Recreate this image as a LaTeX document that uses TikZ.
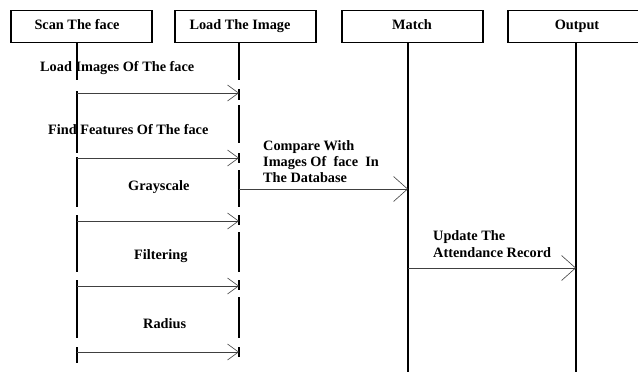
\documentclass[tikz,border=0pt]{standalone}
\usepackage{fontspec}
\setmainfont{Liberation Serif}
\usetikzlibrary{arrows.meta}
\begin{document}
\begin{tikzpicture}[x=1pt,y=-1pt,
  boxst/.style={draw=black,line width=1.8pt,minimum width=141pt,minimum height=32pt,inner sep=0pt},
  txt/.style={font=\fontsize{14.3}{16}\selectfont\bfseries,inner sep=0pt,text=black},
  life/.style={line width=1.8pt,black},
  msg/.style={line width=0.8pt,black!75,-{Straight Barb[length=11pt,width=16pt,line width=0.6pt]}},
  msgbig/.style={line width=0.8pt,black!75,-{Straight Barb[length=14pt,width=25pt,line width=0.6pt]}}]
\useasboundingbox (0,0) rectangle (638,372);
\clip (0,0) rectangle (638,372);
\fill[white] (0,0) rectangle (638,372);
% boxes
\node[boxst] (scanbox) at (81.5,26.5) {};
\node[boxst] (loadbox) at (245.5,26.5) {};
\node[boxst] (matchbox) at (412.5,26.5) {};
\node[boxst] (outbox) at (578.5,26.5) {};
\node[txt,anchor=base] (scant) at (77,30) {Scan The face};
\node[txt,anchor=base] (loadt) at (240,30) {Load The Image};
\node[txt,anchor=base] (matcht) at (412,30) {Match};
\node[txt,anchor=base] (outt) at (577,30) {Output};
% lifelines: scan
\foreach \a/\b in {43/80,91/153,157/207,215/272,280/338,347/363}
  \draw[life] (77,\a) -- (77,\b);
% lifelines: load
\foreach \a/\b in {43/80,89/100,105/143,153/163,170/207,215/225,232/272,280/290,297/338,347/357}
  \draw[life] (239,\a) -- (239,\b);
% lifelines: match, output
\coordinate (mtop) at (408,43);
\coordinate (mbot) at (408,372);
\coordinate (otop) at (576,43);
\coordinate (obot) at (576,372);
\draw[life] (mtop) -- (mbot);
\draw[life] (otop) -- (obot);
% message endpoints
\foreach \i/\y in {1/93,2/158,3/221,4/286,5/352}{
  \coordinate (s\i) at (77,\y);
  \coordinate (l\i) at (239,\y);
}
\coordinate (cmpA) at (239,189);
\coordinate (cmpB) at (408,189);
\coordinate (updA) at (408,268);
\coordinate (updB) at (576,268);
\foreach \i in {1,...,5} \draw[msg] (s\i) -- (l\i);
\draw[msgbig] (cmpA) -- (cmpB);
\draw[msgbig] (updA) -- (updB);
% labels
\node[txt,anchor=base west] (lab1) at (40,71) {Load Images Of The face};
\node[txt,anchor=base west] (lab2) at (48,134) {Find Features Of The face};
\node[txt,anchor=base west] (lab3) at (128,190) {Grayscale};
\node[txt,anchor=base west] (lab4) at (134,259) {Filtering};
\node[txt,anchor=base west] (lab5) at (143,328) {Radius};
\node[txt,anchor=base west] (cmp1) at (263,150) {Compare With};
\node[txt,anchor=base west] (cmp2) at (263,166) {Images Of\ \ face\ \ In};
\node[txt,anchor=base west] (cmp3) at (263,182) {The Database};
\node[txt,anchor=base west] (upd1) at (433,240) {Update The};
\node[txt,anchor=base west] (upd2) at (433,257) {Attendance Record};
\end{tikzpicture}
\end{document}
